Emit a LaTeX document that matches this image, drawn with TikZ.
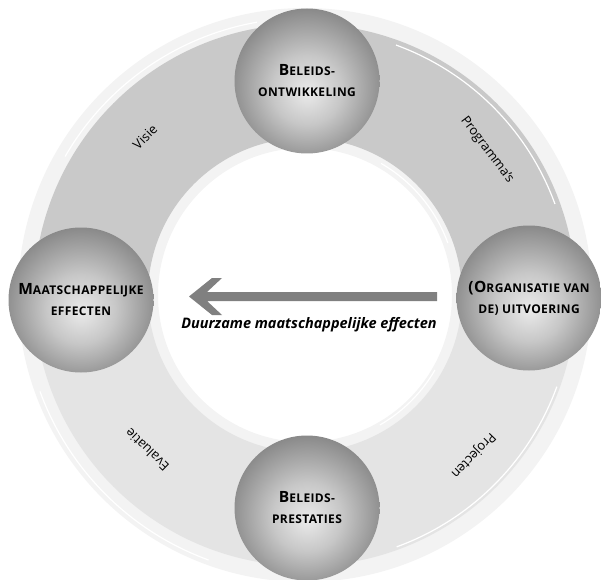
\documentclass[tikz,border=0pt]{standalone}
\usepackage{fontspec}
\setmainfont{Open Sans}
\newfontfamily\capsfont[LetterSpace=3]{Open Sans}
\usepackage{tikz}
\usetikzlibrary{calc}

\definecolor{bandtop}{HTML}{C9C9C9}
\definecolor{bandlow}{HTML}{E4E4E4}
\definecolor{halo}{HTML}{F3F3F3}
\definecolor{arrowgray}{HTML}{808080}

\pgfdeclareradialshading{ballshade}{\pgfpoint{0bp}{-4bp}}{%
  color(0bp)=(black!8); color(12bp)=(black!22); color(28bp)=(black!48);
  color(42bp)=(black!68); color(50bp)=(black!82)}

\newcommand{\capsc}[2]{{\fontsize{15.5}{21}\selectfont #1}{\fontsize{12}{21}\selectfont #2}}

\tikzset{
  ball/.style={circle,minimum size=145pt,inner sep=0pt,shading=ballshade,
    align=center,font=\capsfont\bfseries\fontsize{12}{21}\selectfont},
  ringlabel/.style={font=\fontsize{13}{15}\selectfont},
}

\begin{document}
\begin{tikzpicture}[x=1pt,y=1pt]
  \useasboundingbox (0,0) rectangle (601,579);
  \coordinate (c) at (305,284);

  % Ring
  \fill[halo,even odd rule] (c) circle[radius=287] (c) circle[radius=147];
  \fill[bandtop] ($(c)+(0:271)$) arc[start angle=0,end angle=180,radius=271]
    -- ($(c)+(180:157)$) arc[start angle=180,end angle=0,radius=157] -- cycle;
  \fill[bandlow] ($(c)+(180:271)$) arc[start angle=180,end angle=360,radius=271]
    -- ($(c)+(0:157)$) arc[start angle=360,end angle=180,radius=157] -- cycle;
  % brush strokes along the edges
  \foreach \r/\a/\b in {277/100/150, 266/20/70, 282/200/250, 268/290/340,
                        152/20/60, 150/300/330}
    \draw[white,line width=1.2pt] ($(c)+(\a:\r)$) arc[start angle=\a,end angle=\b,radius=\r];

  % Labels on the ring
  \node[ringlabel,rotate=45] (visie) at (145,442) {Visie};
  \node[ringlabel,rotate=-53] (progr) at (487,429) {Programma's};
  \node[ringlabel,rotate=136] (eval) at (147,129) {Evaluatie};
  \node[ringlabel,rotate=226] (proj) at (473,124) {Projecten};

  % Spheres
  \node[ball] (beleid) at (307,498) {\capsc{B}{ELEIDS-}\\ONTWIKKELING};
  \node[ball] (uitv) at (529,281) {\capsc{(O}{RGANISATIE VAN}\\DE) UITVOERING};
  \node[ball] (prest) at (307,71) {\capsc{B}{ELEIDS-}\\PRESTATIES};
  \node[ball] (effect) at (81,279) {\capsc{M}{AATSCHAPPELIJKE}\\EFFECTEN};

  % Arrow back to the effects
  \coordinate (tip) at (189,282.5);
  \coordinate (tail) at (437,282.5);
  \fill[arrowgray] (tip) -- ++(23,18.5) -- ++(10,0) -- ++(-15,-14)
    -- ($(tail)+(0,4.5)$) -- ($(tail)+(0,-4.5)$) -- ($(tip)+(18,-4.5)$)
    -- ++(15,-14) -- ++(-10,0) -- cycle;
  \node[font=\bfseries\itshape\fontsize{14.5}{16}\selectfont] (duurz) at (309,254)
    {Duurzame maatschappelijke effecten};
\end{tikzpicture}
\end{document}
